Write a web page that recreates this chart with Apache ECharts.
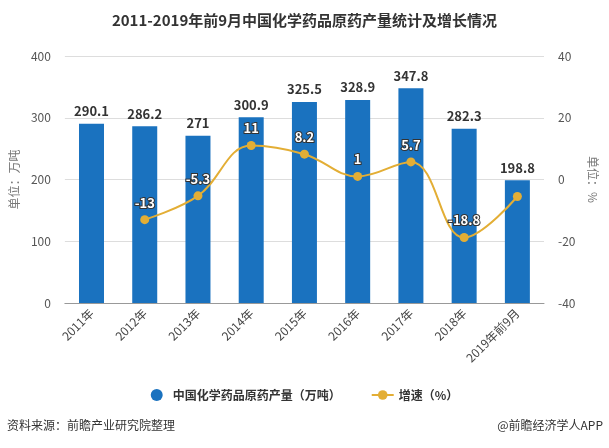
<!DOCTYPE html>
<html><head><meta charset="utf-8">
<script src="https://cdn.jsdelivr.net/npm/echarts@6/dist/echarts.min.js"></script>
<style>html,body{margin:0;padding:0;background:#fff}#c{width:609px;height:448px}</style>
</head><body><div id="c"></div>
<script>
const categories = ['2011年','2012年','2013年','2014年','2015年','2016年','2017年','2018年','2019年前9月'];
const output = [290.1, 286.2, 271, 300.9, 325.5, 328.9, 347.8, 282.3, 198.8];
const growth = [null, -13, -5.3, 11, 8.2, 1, 5.7, -18.8, -5.5];
const growthLabelShown = [false, true, true, true, true, true, true, true, false];
const leftTicks = {min: 0, max: 400, interval: 100};
const rightTicks = {min: -40, max: 40, interval: 20};

const chart = echarts.init(document.getElementById('c'));
const ff = '"Microsoft YaHei","Noto Sans CJK SC",sans-serif';
chart.setOption({
  animation: false,
  textStyle: {fontFamily: ff},
  title: {text: '2011-2019年前9月中国化学药品原药产量统计及增长情况', left: 'center', top: 8,
    textStyle: {fontSize: 15, fontWeight: 'bold', color: '#333', fontFamily: ff}},
  legend: {bottom: 42, left: 'center', itemGap: 30, itemWidth: 22, itemHeight: 12,
    textStyle: {fontSize: 12, color: '#333', fontWeight: 'bold'},
    data: [{name: '中国化学药品原药产量（万吨）', icon: 'circle'}, {name: '增速（%）'}]},
  graphic: [
    {type: 'text', left: 7, top: 419, style: {text: '资料来源：前瞻产业研究院整理', fontSize: 12, fill: '#333', fontFamily: ff}},
    {type: 'text', right: 6, top: 419, style: {text: '@前瞻经济学人APP', fontSize: 12, fill: '#333', fontFamily: ff}}
  ],
  grid: {left: 64, right: 65, top: 56, bottom: 145},
  xAxis: {type: 'category', data: categories,
    axisTick: {alignWithLabel: true, lineStyle: {color: '#999'}},
    axisLine: {lineStyle: {color: '#999'}},
    axisLabel: {rotate: 45, color: '#444', fontSize: 12, interval: 0, margin: 8}},
  yAxis: [
    {type: 'value', min: leftTicks.min, max: leftTicks.max, interval: leftTicks.interval,
      name: '单位：万吨', nameLocation: 'middle', nameGap: 40, nameRotate: 90,
      nameTextStyle: {color: '#777', fontSize: 12},
      axisLine: {show: false}, axisTick: {show: false},
      axisLabel: {color: '#555', fontSize: 12, margin: 14},
      splitLine: {lineStyle: {color: '#ddd'}}},
    {type: 'value', min: rightTicks.min, max: rightTicks.max, interval: rightTicks.interval,
      name: '单位：%', nameLocation: 'middle', nameGap: 38, nameRotate: -90,
      nameTextStyle: {color: '#777', fontSize: 12},
      axisLine: {show: false}, axisTick: {show: false},
      axisLabel: {color: '#555', fontSize: 12, margin: 14},
      splitLine: {show: false}}
  ],
  series: [
    {name: '中国化学药品原药产量（万吨）', type: 'bar', data: output, barWidth: 25,
      itemStyle: {color: '#1a72bf'},
      label: {show: true, position: 'top', color: '#333', fontWeight: 'bold', fontSize: 13, distance: 6}},
    {name: '增速（%）', type: 'line', yAxisIndex: 1, smooth: 0.4,
      data: growth.map((v, i) => ({value: v, label: {show: growthLabelShown[i]}})),
      symbol: 'circle', symbolSize: 9,
      lineStyle: {color: '#e3ae35', width: 2}, itemStyle: {color: '#e3ae35'},
      label: {show: true, position: 'top', color: '#fff', fontWeight: 'bold', fontSize: 13,
        textBorderColor: '#333', textBorderWidth: 2, distance: 6}}
  ]
});
</script></body></html>
